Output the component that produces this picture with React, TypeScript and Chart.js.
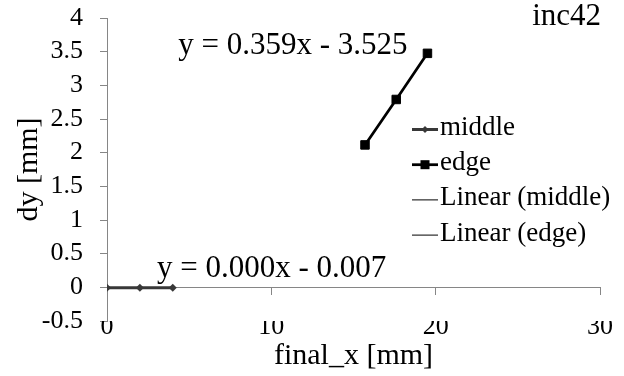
import React, { useEffect, useRef } from "react";
import { Chart, registerables } from "chart.js";

Chart.register(...registerables);

// ---- data ----
const middleX = [0, 2, 4];
const middleY = [-0.006, -0.008, -0.007];
const edgeX = [15.7, 17.6, 19.5];
const edgeY = [2.115, 2.79, 3.475];
const trendMiddleX = [0, 4];
const trendMiddleY = [-0.007, -0.007];
const trendEdgeX = [15.7, 19.5];
const trendEdgeY = [2.111, 3.476];
const seriesLabels = ["middle", "edge", "Linear (middle)", "Linear (edge)"];
const xMin = 0;
const xMax = 30;
const xStep = 10;
const yMin = -0.5;
const yMax = 4;
const yStep = 0.5;
const equationTexts = ["y = 0.359x - 3.525", "y = 0.000x - 0.007"];
const equationX = [4.33, 3.04];
const equationY = [3.58, 0.27];
const chartTag = "inc42";
const xTitle = "final_x [mm]";
const yTitle = "dy [mm]";

const FONT = "'Liberation Serif', 'Times New Roman', serif";
const AXIS_GRAY = "#868686";

const toPoints = (xs: number[], ys: number[]) => xs.map((x, i) => ({ x, y: ys[i] }));

const overlayPlugin = {
  id: "overlay",
  afterDatasetsDraw(chart: any) {
    const { ctx, chartArea, scales } = chart;
    ctx.save();
    ctx.fillStyle = "#000";
    ctx.font = `31px ${FONT}`;
    ctx.textBaseline = "middle";
    ctx.textAlign = "left";
    equationTexts.forEach((t, i) => {
      ctx.fillText(t, scales.x.getPixelForValue(equationX[i]), scales.y.getPixelForValue(equationY[i]));
    });
    ctx.textAlign = "right";
    ctx.fillText(chartTag, chartArea.right + 1, chartArea.top - 1);

    // legend
    ctx.font = `27px ${FONT}`;
    ctx.textAlign = "left";
    const x1 = chartArea.right - 188;
    const x2 = x1 + 26;
    const cx = (x1 + x2) / 2;
    chart.data.datasets.forEach((ds: any, i: number) => {
      const rowY = chartArea.top + 111.5 + i * 35.2;
      ctx.strokeStyle = ds.borderColor;
      ctx.lineWidth = ds.borderWidth;
      ctx.beginPath();
      ctx.moveTo(x1, rowY);
      ctx.lineTo(x2, rowY);
      ctx.stroke();
      if (ds.pointRadius > 0) {
        ctx.fillStyle = ds.pointBackgroundColor;
        ctx.beginPath();
        if (ds.pointStyle === "rectRot") {
          const r = 3.5;
          ctx.moveTo(cx - r, rowY);
          ctx.lineTo(cx, rowY - r);
          ctx.lineTo(cx + r, rowY);
          ctx.lineTo(cx, rowY + r);
          ctx.closePath();
        } else {
          const s = 4.5;
          ctx.rect(cx - s, rowY - s, 2 * s, 2 * s);
        }
        ctx.fill();
      }
      ctx.fillStyle = "#000";
      ctx.fillText(ds.label, x2 + 2, rowY - 1.5);
    });
    ctx.restore();
  },
};

export default function App() {
  const ref = useRef<HTMLCanvasElement | null>(null);

  useEffect(() => {
    if (!ref.current) return;
    const chart = new Chart(ref.current, {
      type: "scatter",
      data: {
        datasets: [
          {
            label: seriesLabels[0],
            data: toPoints(middleX, middleY),
            showLine: true,
            borderColor: "#383838",
            backgroundColor: "#383838",
            pointBackgroundColor: "#383838",
            pointBorderColor: "#383838",
            borderWidth: 3,
            pointStyle: "rectRot",
            pointRadius: 4,
            pointBorderWidth: 0,
            order: 1,
          },
          {
            label: seriesLabels[1],
            data: toPoints(edgeX, edgeY),
            showLine: true,
            borderColor: "#000000",
            backgroundColor: "#000000",
            pointBackgroundColor: "#000000",
            pointBorderColor: "#000000",
            borderWidth: 2.75,
            pointStyle: "rect",
            pointRadius: 6,
            pointBorderWidth: 1,
            order: 0,
          },
          {
            label: seriesLabels[2],
            data: toPoints(trendMiddleX, trendMiddleY),
            showLine: true,
            borderColor: "#000000",
            borderWidth: 1,
            pointRadius: 0,
            order: 2,
          },
          {
            label: seriesLabels[3],
            data: toPoints(trendEdgeX, trendEdgeY),
            showLine: true,
            borderColor: "#000000",
            borderWidth: 1,
            pointRadius: 0,
            order: 3,
          },
        ],
      },
      options: {
        animation: false,
        responsive: false,
        layout: { padding: { left: 0, right: 24, top: 18, bottom: 0 } },
        plugins: {
          legend: { display: false },
          tooltip: { enabled: false },
          title: { display: false },
        },
        scales: {
          x: {
            type: "linear",
            position: "bottom",
            min: xMin,
            max: xMax,
            grid: { display: false, drawTicks: false },
            border: { display: false },
            ticks: {
              stepSize: xStep,
              color: "#000",
              font: { family: FONT, size: 26, lineHeight: 1 },
              padding: -7,
              maxRotation: 0,
            },
            title: {
              display: true,
              text: xTitle,
              color: "#000",
              font: { family: FONT, size: 30, lineHeight: 1 },
              padding: { top: 0, bottom: 5 },
            },
            afterFit: (scale: any) => {
              scale.height = 55;
            },
          },
          x2: {
            type: "linear",
            axis: "x",
            position: { y: 0 },
            min: xMin,
            max: xMax,
            grid: {
              display: true,
              drawOnChartArea: false,
              drawTicks: true,
              tickLength: 7,
              color: AXIS_GRAY,
            },
            border: { display: true, color: AXIS_GRAY, width: 1 },
            ticks: { stepSize: xStep, display: false },
          },
          y: {
            type: "linear",
            position: "left",
            min: yMin,
            max: yMax,
            grid: {
              display: true,
              drawOnChartArea: false,
              drawTicks: true,
              tickLength: 7,
              color: AXIS_GRAY,
            },
            border: { display: true, color: AXIS_GRAY, width: 1 },
            ticks: {
              stepSize: yStep,
              color: "#000",
              font: { family: FONT, size: 26, lineHeight: 1 },
              padding: 17,
              callback: (v: any) => String(Number(v)),
            },
            title: {
              display: true,
              text: yTitle,
              color: "#000",
              font: { family: FONT, size: 30, lineHeight: 1 },
              padding: { top: 14, bottom: 0 },
            },
            afterFit: (scale: any) => {
              scale.width = 107;
              scale.paddingTop = 0;
              scale.paddingBottom = 0;
            },
          },
        },
      },
      plugins: [overlayPlugin],
    } as any);
    return () => chart.destroy();
  }, []);

  return (
    <div style={{ position: "fixed", left: 0, top: 0, width: 624, height: 376, background: "#fff" }}>
      <canvas ref={ref} width={624} height={376} />
    </div>
  );
}
